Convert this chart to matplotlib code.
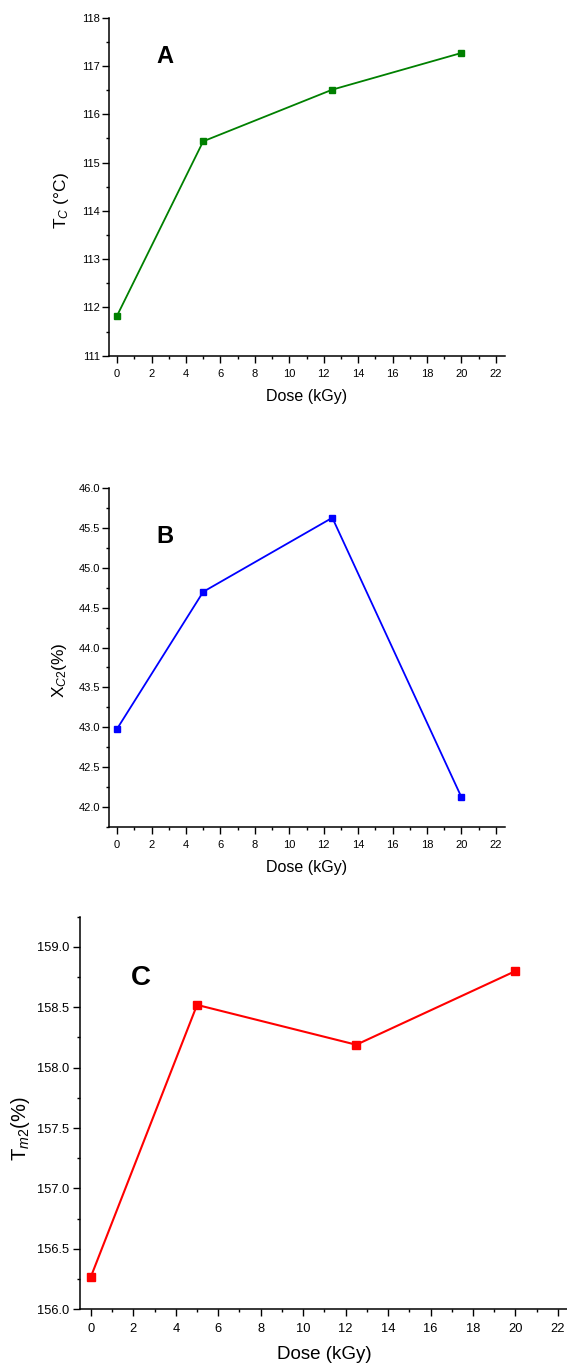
import matplotlib
matplotlib.use('Agg')
import matplotlib.pyplot as plt
from matplotlib.ticker import MultipleLocator, FormatStrFormatter

plt.rcParams['font.family'] = ['Liberation Sans', 'DejaVu Sans']
plt.rcParams['mathtext.fontset'] = 'custom'
plt.rcParams['mathtext.rm'] = 'Liberation Sans'
plt.rcParams['mathtext.it'] = 'Liberation Sans:italic'

# data
dose = [0, 5, 12.5, 20]
tc = [111.83, 115.44, 116.51, 117.27]
xc2 = [42.98, 44.70, 45.63, 42.12]
tm2 = [156.27, 158.52, 158.19, 158.80]

W, H = 567, 1367
fig = plt.figure(figsize=(W / 100, H / 100), dpi=100)

def add_ax(left, top, right, bottom):
    return fig.add_axes([left / W, 1 - bottom / H, (right - left) / W, (bottom - top) / H])

def style(ax, ymaj, ymin, fs, ypad):
    ax.spines['top'].set_visible(False)
    ax.spines['right'].set_visible(False)
    for s in ('left', 'bottom'):
        ax.spines[s].set_linewidth(1.1)
    ax.set_xlim(-0.5, 22.5)
    ax.xaxis.set_major_locator(MultipleLocator(2))
    ax.xaxis.set_minor_locator(MultipleLocator(1))
    ax.yaxis.set_major_locator(MultipleLocator(ymaj))
    ax.yaxis.set_minor_locator(MultipleLocator(ymin))
    ax.tick_params(which='major', direction='out', length=4.7, width=1, labelsize=fs)
    ax.tick_params(which='minor', direction='out', length=2.5, width=1)
    ax.tick_params(axis='x', which='major', pad=5)
    ax.tick_params(axis='y', which='major', pad=ypad)

# A
axA = add_ax(108.5, 17.7, 504.5, 355.7)
axA.plot(dose, tc, color='#008000', lw=1.3, marker='s', ms=5, mec='#008000')
axA.set_ylim(111, 118)
style(axA, 1, 0.5, 8, 1.5)
axA.set_xlabel('Dose (kGy)', fontsize=11.5, labelpad=7)
axA.set_ylabel('T$_{\\it{C}}$ (°C)', fontsize=12.5, va='center')
axA.yaxis.set_label_coords(-0.118, 0.458)
axA.text(0.142, 0.885, 'A', transform=axA.transAxes, fontsize=17, fontweight='bold',
         ha='center', va='center')

# B
axB = add_ax(108.5, 488.3, 504.5, 826.7)
axB.plot(dose, xc2, color='#0000ff', lw=1.3, marker='s', ms=5, mec='#0000ff')
axB.set_ylim(41.75, 46.0)
style(axB, 0.5, 0.25, 8, 1.5)
axB.yaxis.set_major_formatter(FormatStrFormatter('%.1f'))
axB.set_xlabel('Dose (kGy)', fontsize=11.5, labelpad=7)
axB.set_ylabel('X$_{\\it{C2}}$(%)', fontsize=12.5, va='center')
axB.yaxis.set_label_coords(-0.123, 0.462)
axB.text(0.142, 0.859, 'B', transform=axB.transAxes, fontsize=17, fontweight='bold',
         ha='center', va='center')

# C
axC = add_ax(80.3, 916.7, 568.5, 1309.3)
axC.plot(dose, tm2, color='#ff0000', lw=1.5, marker='s', ms=6, mec='#ff0000')
axC.set_ylim(156.0, 159.25)
style(axC, 0.5, 0.25, 9.3, 3.2)
axC.yaxis.set_major_formatter(FormatStrFormatter('%.1f'))
axC.set_xlabel('Dose (kGy)', fontsize=13.5, labelpad=8)
axC.set_ylabel('T$_{\\it{m2}}$(%)', fontsize=14.5, va='center')
axC.yaxis.set_label_coords(-0.1235, 0.459)
axC.text(0.124, 0.843, 'C', transform=axC.transAxes, fontsize=20, fontweight='bold',
         ha='center', va='center')

fig.savefig('out.png', dpi=100)
